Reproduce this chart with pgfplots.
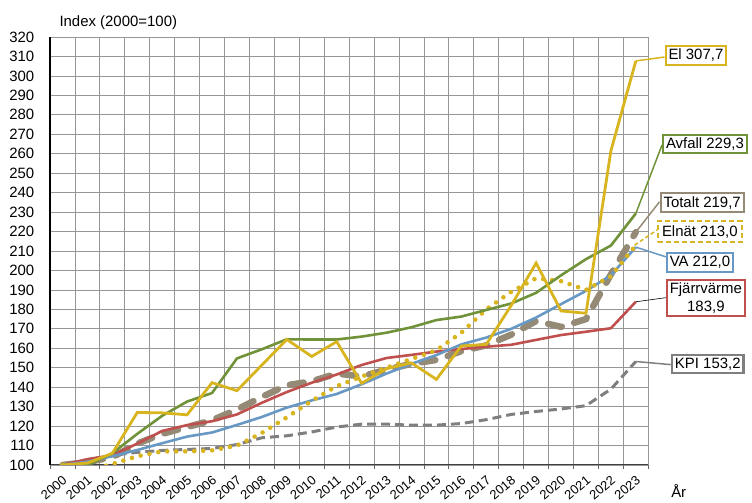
\documentclass[border=0pt]{standalone}
\usepackage{pgfplots}
\usepackage{pgfplotstable}
\pgfplotsset{compat=1.18}
\usepackage{fontspec}
\setmainfont{Liberation Sans}
\definecolor{elc}{RGB}{216,180,30}
\definecolor{avc}{RGB}{112,146,56}
\definecolor{totc}{RGB}{148,138,118}
\definecolor{vac}{RGB}{104,152,196}
\definecolor{fjc}{RGB}{192,80,77}
\definecolor{kpic}{RGB}{127,127,127}
\definecolor{gridc}{RGB}{150,150,150}
\pgfplotstableread{
i El Avfall Totalt Elnat VA Fjarr KPI
0 100 100 100 100 100 100 100
1 101 100 101.5 97 101.7 103 102.7
2 106 106 104 100.5 104.5 105 105
3 127 116 111 104.5 107.7 111 106.5
4 126.8 125.3 116 107 111.2 117.5 107.5
5 125.8 132.6 119.5 107 114.6 120.5 108
6 142.3 137 123 107.5 116.7 122.5 108.5
7 138.2 154.8 128.5 110 120.6 126 110.5
8 151.4 159.5 135 116.5 124.7 132 114
9 164.5 164.6 141 124.5 129.5 137.5 115
10 155.8 164.5 143 133 133.2 142.3 117
11 163.4 164.5 147 140.5 136.5 146.5 119.5
12 142 166 145.5 145.5 141.5 151.4 121
13 149.5 168 149 150 147 155 121
14 152.5 170.8 152 154.5 152 156.6 120.5
15 144 174.5 154 159 156.5 158.3 120.5
16 161.2 176.3 158.5 168 162 159.6 121.3
17 162 179.7 161.5 180 165.5 160.8 123.3
18 182 183 167 189 170 161.8 126
19 203.8 188.5 174 196 175.8 164.3 127.5
20 179.2 197.5 171 194.5 182.7 166.8 128.8
21 178 205.8 175 190 189.5 168.5 130.5
22 261.5 212.8 198 197 197.5 170.3 139
23 307.7 229.3 219.7 213.0 212.0 183.9 153.2
}\datatable
\begin{document}
\begin{tikzpicture}[font=\fontsize{15}{17.5}\selectfont]
\useasboundingbox (0,0) rectangle (752bp,503bp);
\begin{axis}[
  at={(50bp,38bp)}, anchor=south west,
  scale only axis, width=598.3bp, height=428bp,
  xmin=-0.5, xmax=23.5, ymin=100, ymax=320,
  clip mode=individual,
  axis x line*=bottom, axis y line*=left,
  x axis line style={-, draw=black!75, line width=1bp},
  y axis line style={-, draw=black, line width=1.2bp},
  xtick={0,...,23},
  xticklabels={2000,2001,2002,2003,2004,2005,2006,2007,2008,2009,2010,2011,2012,2013,2014,2015,2016,2017,2018,2019,2020,2021,2022,2023},
  major x tick style={draw=none},
  minor xtick={-0.5,0.5,...,23.5},
  minor x tick style={draw=black!60, line width=0.8bp},
  minor tick length=4bp,
  tick align=outside,
  xminorgrids, ymajorgrids,
  ytick={100,110,...,320},
  major y tick style={draw=none},
  grid style={gridc, line width=0.8bp},
  minor grid style={gridc, line width=0.8bp},
  /pgf/number format/assume math mode=true,
  yticklabel style={font=\fontsize{15}{17}\selectfont, xshift=-8bp},
  xticklabel style={font=\fontsize{13}{15}\selectfont, rotate=40, anchor=north east, inner sep=1bp, xshift=-3bp, yshift=-3bp},
  /pgf/number format/1000 sep={},
]
\addplot[totc, line width=6.5bp, line cap=round, dash pattern=on 14bp off 13bp] table[x=i, y=Totalt] {\datatable};
\addplot[kpic, line width=3bp, dash pattern=on 9bp off 5bp] table[x=i, y=KPI] {\datatable};
\addplot[fjc, line width=2.6bp] table[x=i, y=Fjarr] {\datatable};
\addplot[vac, line width=2.6bp] table[x=i, y=VA] {\datatable};
\addplot[elc, line width=4.6bp, line cap=round, dash pattern=on 0bp off 9bp] table[x=i, y=Elnat] {\datatable};
\addplot[avc, line width=2.6bp] table[x=i, y=Avfall] {\datatable};
\addplot[elc, line width=2.8bp] table[x=i, y=El] {\datatable};

\draw[elc, line width=1.5bp] (axis cs:23,307.7) -- (axis cs:24.15,309.7);
\draw[avc, line width=1.5bp] (axis cs:23,229.3) -- (axis cs:24.05,264.5);
\draw[totc, line width=1.5bp] (axis cs:23,219.7) -- (axis cs:23.95,235.3);
\draw[elc, line width=1.5bp, dash pattern=on 4bp off 2.5bp] (axis cs:22.95,213) -- (axis cs:23.85,220.8);
\draw[vac, line width=1.5bp] (axis cs:23,212) -- (axis cs:24.2,207);
\draw[black, line width=0.6bp] (axis cs:23,183.9) -- (axis cs:24.2,186);
\draw[kpic, line width=1.5bp] (axis cs:23,153.2) -- (axis cs:24.4,151.6);

\node[draw=elc, line width=2bp, fill=white, anchor=west, inner sep=3bp] at (axis cs:24.15,310.5) {El 307,7};
\node[draw=avc, line width=2bp, fill=white, anchor=west, inner sep=3bp] at (axis cs:24.05,265.0) {Avfall 229,3};
\node[draw=totc, line width=2bp, fill=white, anchor=west, inner sep=3bp] at (axis cs:23.95,234.9) {Totalt 219,7};
\node[draw=elc, line width=2bp, dash pattern=on 5bp off 3bp, fill=white, anchor=west, inner sep=4bp] at (axis cs:23.85,220.0) {Elnät 213,0};
\node[draw=vac, line width=2bp, fill=white, anchor=west, inner sep=3bp] at (axis cs:24.2,204.1) {VA 212,0};
\node[draw=fjc, line width=2bp, fill=white, anchor=west, inner sep=3bp, align=center] at (axis cs:24.2,185.8) {Fjärrvärme\\183,9};
\node[draw=kpic, line width=2.5bp, fill=white, anchor=west, inner sep=3bp] at (axis cs:24.4,151.9) {KPI 153,2};

\node[anchor=base west] at ([xshift=6bp, yshift=10bp]rel axis cs:0,1) {Index (2000=100)};
\node[anchor=base west] at ([yshift=-32bp]axis cs:24.28,100) {År};
\end{axis}
\end{tikzpicture}
\end{document}
